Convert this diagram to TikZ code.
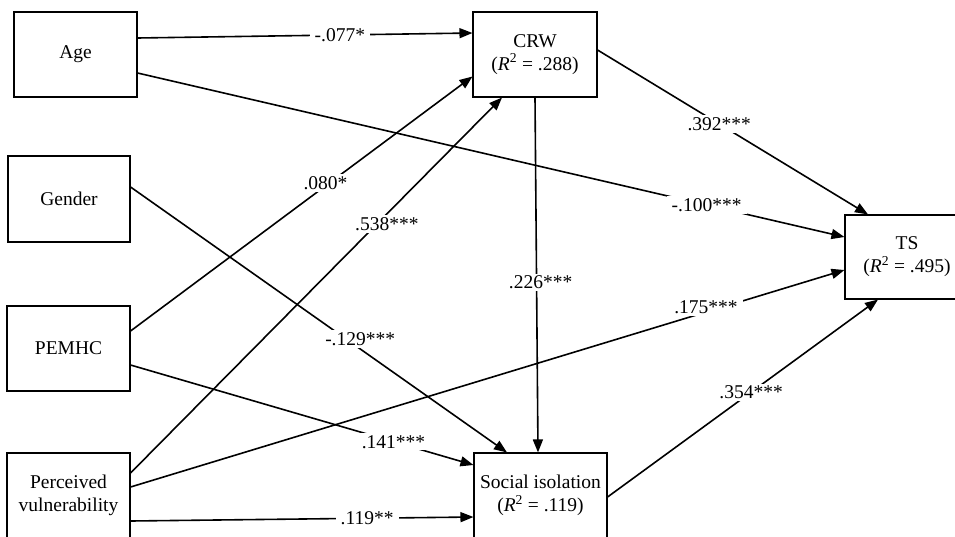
\documentclass[tikz,border=0pt]{standalone}
\usepackage{fontspec}
\setmainfont{Liberation Serif}
\usetikzlibrary{arrows.meta}
\begin{document}
\begin{tikzpicture}[x=1pt,y=-1pt,
  box/.style={draw, line width=1.1pt, fill=white, inner sep=0pt, align=center,
    font=\fontsize{19.5}{23}\selectfont},
  conn/.style={line width=1.6pt, -{Triangle[length=13pt,width=10pt]}},
  lbl/.style={fill=white, inner xsep=5pt, inner ysep=2pt, font=\fontsize{19.5}{23}\selectfont}]
\clip (0,0) rectangle (955,536);
% boxes
\node[box, minimum width=123pt, minimum height=85pt] (age) at (75.5,54.5) {Age};
\node[box, minimum width=122pt, minimum height=86pt] (gender) at (69,199) {Gender};
\node[box, minimum width=123pt, minimum height=85pt] (pemhc) at (68.5,348.5) {PEMHC};
\node[box, minimum width=123pt, minimum height=85pt] (pv) at (68.5,495.5) {Perceived\\vulnerability};
\node[box, minimum width=124pt, minimum height=85pt] (crw) at (535,54.5) {CRW\\(\textit{R}\textsuperscript{2} = .288)};
\node[box, minimum width=124pt, minimum height=84pt] (ts) at (907,257) {TS\\(\textit{R}\textsuperscript{2} = .495)};
\node[box, minimum width=133pt, minimum height=85pt] (si) at (540.5,495.5) {Social isolation\\(\textit{R}\textsuperscript{2} = .119)};
% connectors
\draw[conn] ([yshift=16.5pt]age.east) -- node[lbl, pos=0.604] (l1) {-.077*} ([yshift=21.5pt]crw.west);
\draw[conn] ([yshift=-18.5pt]age.east) -- node[lbl, pos=0.805] (l2) {-.100***} ([yshift=20pt]ts.west);
\draw[conn] ([yshift=4.5pt]crw.east) -- node[lbl, pos=0.45] (l3) {.392***} ([xshift=-39pt]ts.north);
\draw[conn] (crw.south) -- node[lbl, pos=0.52, xshift=4pt] (l4) {.226***} ([xshift=-2.5pt]si.north);
\draw[conn] ([yshift=17.5pt]pemhc.east) -- node[lbl, pos=0.57, yshift=3pt] (l5) {.080*} ([yshift=-22pt]crw.west);
\draw[conn] ([yshift=22.5pt]pv.east) -- node[lbl, pos=0.69, yshift=-10pt] (l6) {.538***} ([xshift=-33pt]crw.south);
\draw[conn] ([yshift=12pt]gender.east) -- node[lbl, pos=0.61, yshift=10pt] (l7) {-.129***} ([xshift=-33.5pt]si.north);
\draw[conn] ([yshift=-16.5pt]pemhc.east) -- node[lbl, pos=0.767] (l8) {.141***} ([yshift=30.5pt]si.west);
\draw[conn] ([yshift=8.5pt]pv.east) -- node[lbl, pos=0.806, yshift=5pt] (l9) {.175***} ([yshift=-13pt]ts.west);
\draw[conn] ([yshift=-25.5pt]pv.east) -- node[lbl, pos=0.69] (l10) {.119**} ([yshift=-21.5pt]si.west);
\draw[conn] ([yshift=-1.5pt]si.east) -- node[lbl, pos=0.531] (l11) {.354***} ([xshift=-29pt]ts.south);
\end{tikzpicture}
\end{document}
